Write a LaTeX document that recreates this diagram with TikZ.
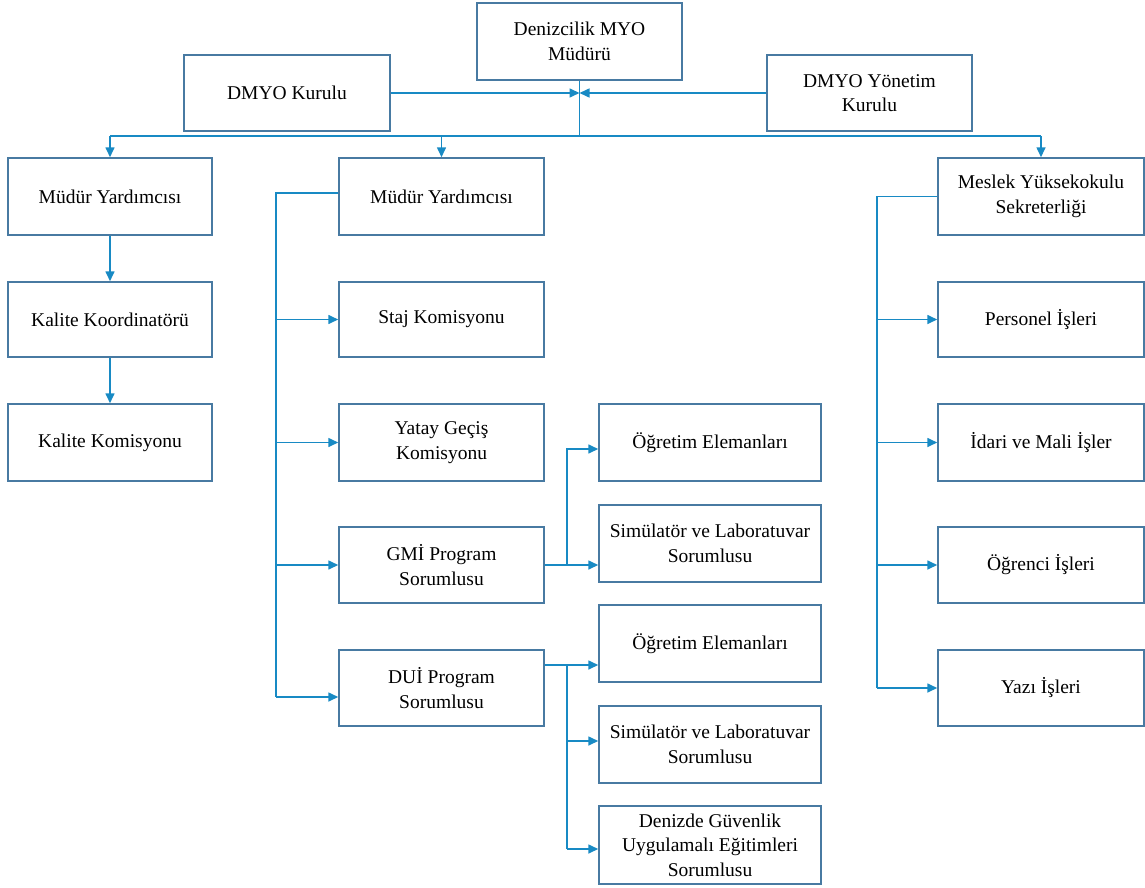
\documentclass[tikz,border=0pt]{standalone}
\usepackage{fontspec}
\setmainfont{Liberation Serif}
\usetikzlibrary{arrows.meta}
\definecolor{boxc}{RGB}{72,122,162}
\definecolor{linec}{RGB}{24,138,196}
\tikzset{
  box/.style={draw=boxc, line width=1.5pt, align=center, inner sep=2pt,
    font=\fontsize{19.5}{24.5}\selectfont, text=black},
  conn/.style={draw=linec, line width=1.6pt},
  arr/.style={conn, -{Triangle[width=9pt,length=10pt]}}
}
\begin{document}
\begin{tikzpicture}[x=1pt,y=-1pt]
\useasboundingbox (0,0) rectangle (1145,888);
% top
\node[box, minimum width=205pt, minimum height=77pt] (mud) at (579.5,41.5) {Denizcilik MYO\\Müdürü};
\node[box, minimum width=206pt, minimum height=76pt] (kur) at (287,93) {DMYO Kurulu};
\node[box, minimum width=205pt, minimum height=76pt] (yon) at (869.5,93) {DMYO Yönetim\\Kurulu};
% left column
\node[box, minimum width=204pt, minimum height=77pt] (my1) at (110,196.5) {Müdür Yardımcısı};
\node[box, minimum width=204pt, minimum height=75pt] (kk) at (110,319.5) {Kalite Koordinatörü};
\node[box, minimum width=204pt, minimum height=77pt] (kkom) at (110,442.5) {Kalite Komisyonu};
% middle column
\node[box, minimum width=205pt, minimum height=77pt] (my2) at (441.5,196.5) {Müdür Yardımcısı};
\node[box, minimum width=205pt, minimum height=75pt] (staj) at (441.5,319.5) {Staj Komisyonu};
\node[box, minimum width=205pt, minimum height=77pt] (yatay) at (441.5,442.5) {Yatay Geçiş\\Komisyonu};
\node[box, minimum width=205pt, minimum height=76pt] (gmi) at (441.5,565) {GMİ Program\\Sorumlusu};
\node[box, minimum width=205pt, minimum height=76pt] (dui) at (441.5,688) {DUİ Program\\Sorumlusu};
% sub column
\node[box, minimum width=222pt, minimum height=77pt] (og1) at (710,442.5) {Öğretim Elemanları};
\node[box, minimum width=222pt, minimum height=77pt] (sim1) at (710,543.5) {Simülatör ve Laboratuvar\\Sorumlusu};
\node[box, minimum width=222pt, minimum height=77pt] (og2) at (710,643.5) {Öğretim Elemanları};
\node[box, minimum width=222pt, minimum height=77pt] (sim2) at (710,744.5) {Simülatör ve Laboratuvar\\Sorumlusu};
\node[box, minimum width=222pt, minimum height=78pt] (den) at (710,845) {Denizde Güvenlik\\Uygulamalı Eğitimleri\\Sorumlusu};
% right column
\node[box, minimum width=206pt, minimum height=77pt] (sek) at (1041,196.5) {Meslek Yüksekokulu\\Sekreterliği};
\node[box, minimum width=206pt, minimum height=75pt] (per) at (1041,319.5) {Personel İşleri};
\node[box, minimum width=206pt, minimum height=77pt] (ida) at (1041,442.5) {İdari ve Mali İşler};
\node[box, minimum width=206pt, minimum height=76pt] (ogr) at (1041,565) {Öğrenci İşleri};
\node[box, minimum width=206pt, minimum height=76pt] (yaz) at (1041,688) {Yazı İşleri};
% entry points
\coordinate (my2out) at ([yshift=3.5pt]my2.west);
\coordinate (duiin) at ([yshift=-9pt]dui.west);
\coordinate (og1in) at ([yshift=-6.5pt]og1.west);
\coordinate (duiout) at ([yshift=23pt]dui.east);
\coordinate (sim2in) at ([yshift=3.5pt]sim2.west);
\coordinate (denin) at ([yshift=-4pt]den.west);
% top connectors
\coordinate (j) at (579.5,93);
\coordinate (bus) at (579.5,136);
\draw[arr] (kur.east) -- (j);
\draw[arr] (yon.west) -- (j);
\draw[conn] (mud.south) -- (bus);
\draw[conn] (my1.north |- bus) -- (sek.north |- bus);
\draw[arr] (my1.north |- bus) -- (my1.north);
\draw[arr] (my2.north |- bus) -- (my2.north);
\draw[arr] (sek.north |- bus) -- (sek.north);
% left column
\draw[arr] (my1.south) -- (kk.north);
\draw[arr] (kk.south) -- (kkom.north);
% middle trunk
\draw[conn] (my2out) -- ++(-62,0) coordinate (mt) -- (mt |- duiin);
\draw[arr] (mt |- staj.west) -- (staj.west);
\draw[arr] (mt |- yatay.west) -- (yatay.west);
\draw[arr] (mt |- gmi.west) -- (gmi.west);
\draw[arr] (mt |- duiin) -- (duiin);
% GMI branches
\draw[conn] (gmi.east) -- ++(22,0) coordinate (gx);
\draw[arr] (gx) |- (og1in);
\draw[arr] (gx) -- (sim1.west |- gx);
% DUI branches
\draw[conn] (duiout) -- ++(22,0) coordinate (dx);
\draw[arr] (dx) -- (og2.west |- dx);
\draw[conn] (dx) -- (dx |- denin);
\draw[arr] (dx |- sim2in) -- (sim2in);
\draw[arr] (dx |- denin) -- (denin);
% right trunk
\draw[conn] (sek.west) -- ++(-60,0) coordinate (rt) -- (rt |- yaz.west);
\draw[arr] (rt |- per.west) -- (per.west);
\draw[arr] (rt |- ida.west) -- (ida.west);
\draw[arr] (rt |- ogr.west) -- (ogr.west);
\draw[arr] (rt |- yaz.west) -- (yaz.west);
\end{tikzpicture}
\end{document}
